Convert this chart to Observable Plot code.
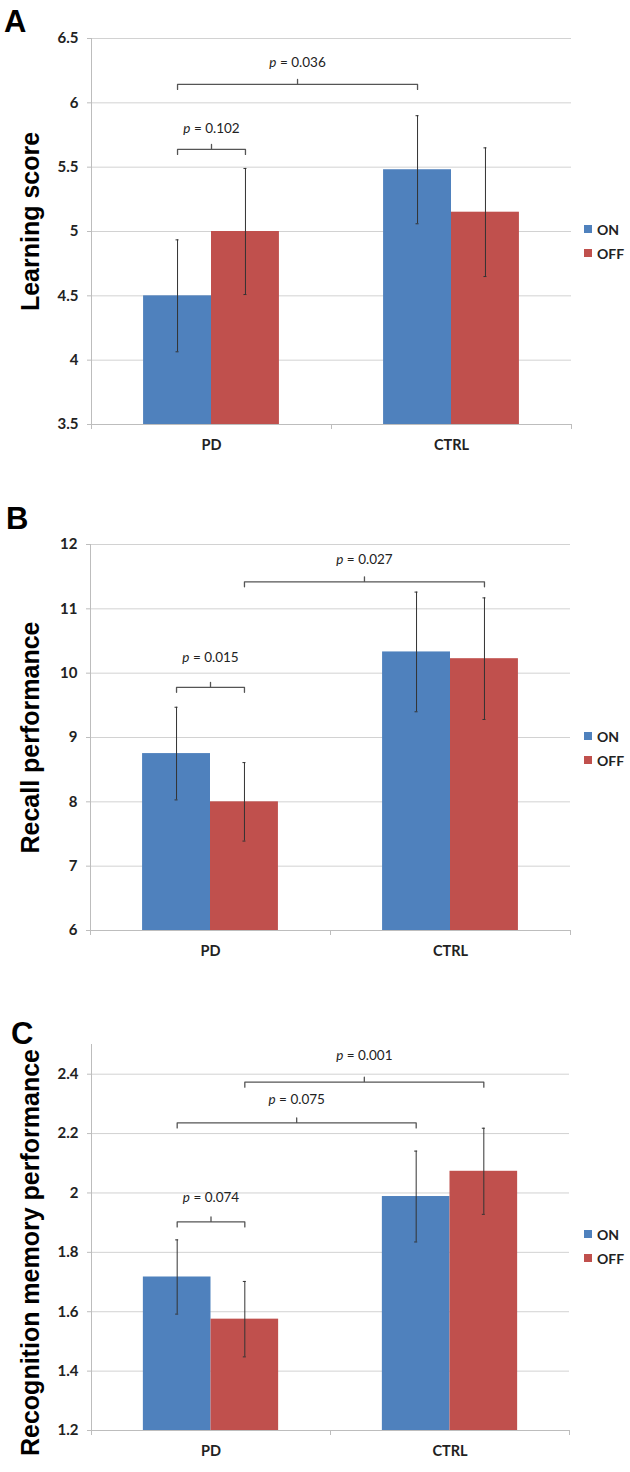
<!DOCTYPE html>
<html><head><meta charset="utf-8">
<script src="https://cdn.jsdelivr.net/npm/d3@7"></script>
<script src="https://cdn.jsdelivr.net/npm/@observablehq/plot@0.6"></script>
<style>
body{margin:0;background:#fff;width:630px;}
.panel{position:relative;width:630px;}
.panel svg{display:block;}
.letter{position:absolute;font:bold 31px "Liberation Sans",Arial,sans-serif;color:#000;line-height:31px;}
.legend{position:absolute;font:bold 14px Lato,sans-serif;color:#222;}
.legend .row{display:flex;align-items:center;height:24px;}
.legend .sw{display:inline-block;width:8px;height:8px;margin-right:5px;}
g[aria-label$="tick label"] text{font-weight:bold;}
</style></head><body><div id="root"></div>
<script>
// ---- shared categories ----
const groups = ["PD", "CTRL"];
const conditions = ["ON", "OFF"];
const colors = ["#4F81BD", "#C0504D"];
const panelLetters = ["A", "B", "C"];
const yTitles = ["Learning score", "Recall performance", "Recognition memory performance"];

// ---- Panel A: learning score (values per group PD, CTRL) ----
const learningOn = [4.50, 5.48];
const learningOff = [5.00, 5.15];
const learningOnErr = [0.435, 0.42];
const learningOffErr = [0.49, 0.50];
const learningTicks = [3.5, 4, 4.5, 5, 5.5, 6, 6.5];
const learningBrackets = [
  {from: ["PD", "ON"], to: ["PD", "OFF"], level: 5.638, labelLevel: 5.80, label: "p = 0.102"},
  {from: ["PD", "ON"], to: ["CTRL", "ON"], level: 6.143, labelLevel: 6.313, label: "p = 0.036"}
];

// ---- Panel B: recall performance ----
const recallOn = [8.75, 10.33];
const recallOff = [8.00, 10.225];
const recallOnErr = [0.72, 0.93];
const recallOffErr = [0.61, 0.945];
const recallTicks = [6, 7, 8, 9, 10, 11, 12];
const recallBrackets = [
  {from: ["PD", "ON"], to: ["PD", "OFF"], level: 9.78, labelLevel: 10.24, label: "p = 0.015"},
  {from: ["PD", "OFF"], to: ["CTRL", "OFF"], level: 11.42, labelLevel: 11.77, label: "p = 0.027"}
];

// ---- Panel C: recognition memory performance ----
const recogOn = [1.717, 1.988];
const recogOff = [1.575, 2.073];
const recogOnErr = [0.125, 0.153];
const recogOffErr = [0.127, 0.145];
const recogTicks = [1.2, 1.4, 1.6, 1.8, 2.0, 2.2, 2.4];
const recogBrackets = [
  {from: ["PD", "ON"], to: ["PD", "OFF"], level: 1.9026, labelLevel: 1.983, label: "p = 0.074"},
  {from: ["PD", "ON"], to: ["CTRL", "ON"], level: 2.236, labelLevel: 2.313, label: "p = 0.075"},
  {from: ["PD", "OFF"], to: ["CTRL", "OFF"], level: 2.373, labelLevel: 2.464, label: "p = 0.001"}
];

// ---- layout ----
const xDomain = [-0.5, 1.5];
const barW = 0.283; // bar width as a fraction of a category step
const panels = [
  {on: learningOn, off: learningOff, onErr: learningOnErr, offErr: learningOffErr, ticks: learningTicks,
   yDomain: [3.5, 6.5], brackets: learningBrackets, height: 500, mt: 38, mb: 76, ml: 91, mr: 59,
   letterPos: [4, 6], legendTop: 217, titleDy: -10},
  {on: recallOn, off: recallOff, onErr: recallOnErr, offErr: recallOffErr, ticks: recallTicks,
   yDomain: [6, 12], brackets: recallBrackets, height: 500, mt: 44, mb: 70, ml: 90, mr: 60,
   letterPos: [6, 3], legendTop: 224, titleDy: 0},
  {on: recogOn, off: recogOff, onErr: recogOnErr, offErr: recogOffErr, ticks: recogTicks,
   yDomain: [1.2, 2.5], brackets: recogBrackets, height: 472, mt: 44, mb: 42, ml: 91, mr: 61,
   letterPos: [11, 18], legendTop: 222, titleDy: 15}
];

const fmt = d => String(+d.toFixed(1));
const xCenter = (g, c) => groups.indexOf(g) + (conditions.indexOf(c) === 0 ? -barW / 2 : barW / 2);

const root = document.getElementById("root");
panels.forEach((p, k) => {
  const rows = [];
  groups.forEach((g, gi) => {
    [[p.on, p.onErr], [p.off, p.offErr]].forEach(([vals, errs], ci) => {
      rows.push({group: g, cond: conditions[ci], value: vals[gi], err: errs[gi],
        x1: gi + (ci - 1) * barW, x2: gi + ci * barW, xc: gi + (ci - 0.5) * barW});
    });
  });
  const innerH = p.height - p.mt - p.mb;
  const unitPx = innerH / (p.yDomain[1] - p.yDomain[0]);
  const d = 5 / unitPx;
  const bracketPts = [];
  p.brackets.forEach((b, i) => {
    const xa = xCenter(...b.from), xb = xCenter(...b.to), xm = (xa + xb) / 2;
    [[xa, b.level - d], [xa, b.level], [xm, b.level], [xm, b.level + d], [xm, b.level], [xb, b.level], [xb, b.level - d]]
      .forEach(([x, y]) => bracketPts.push({id: i, x, y}));
  });
  const labels = p.brackets.map(b => ({x: (xCenter(...b.from) + xCenter(...b.to)) / 2, y: b.labelLevel, text: b.label}));

  const svg = Plot.plot({
    width: 630, height: p.height,
    marginTop: p.mt, marginBottom: p.mb, marginLeft: p.ml, marginRight: p.mr,
    style: {fontFamily: "Lato, sans-serif", fontSize: "14px", color: "#222", background: "#fff"},
    x: {domain: xDomain},
    y: {domain: p.yDomain},
    color: {domain: conditions, range: colors},
    marks: [
      Plot.gridY(p.ticks, {stroke: "#d2d2d2", strokeOpacity: 1}),
      Plot.ruleX([xDomain[0]], {stroke: "#bdbdbd"}),
      Plot.ruleY([p.yDomain[0]], {stroke: "#bdbdbd"}),
      Plot.rectY(rows, {x1: "x1", x2: "x2", y1: () => p.yDomain[0], y2: "value", fill: "cond"}),
      Plot.ruleX(rows, {x: "xc", y1: r => r.value - r.err, y2: r => r.value + r.err, stroke: "#333", strokeWidth: 1}),
      Plot.ruleY(rows, {x1: "xc", x2: "xc", y: r => r.value - r.err, insetLeft: -1.5, insetRight: -1.5, stroke: "#333"}),
      Plot.ruleY(rows, {x1: "xc", x2: "xc", y: r => r.value + r.err, insetLeft: -1.5, insetRight: -1.5, stroke: "#333"}),
      Plot.line(bracketPts, {x: "x", y: "y", z: "id", stroke: "#555", strokeWidth: 1.3}),
      Plot.text(labels, {x: "x", y: "y", text: "text", fontSize: 13.5, fill: "#222"}),
      Plot.axisY({ticks: p.ticks, tickSize: 4, tickPadding: 9, tickFormat: fmt, stroke: "#bdbdbd", fill: "#222", label: null, fontSize: 15}),
      Plot.axisX({ticks: [-0.5, 0.5, 1.5], tickSize: 5, tickFormat: () => "", stroke: "#bdbdbd", label: null}),
      Plot.axisX({ticks: [0, 1], tickSize: 0, tickPadding: 15, tickFormat: i => groups[i], fill: "#222", label: null, fontSize: 14.5}),
      Plot.text([yTitles[k]], {frameAnchor: "left", textAnchor: "middle", rotate: -90, dx: 30 - p.ml, dy: p.titleDy,
        fontSize: 25, fontWeight: "bold", fontFamily: "Liberation Sans, Arial, sans-serif", fill: "#000"})
    ]
  });
  d3.select(svg).selectAll("text").each(function() {
    const t = this.textContent;
    if (t.startsWith("p = ")) {
      const el = d3.select(this);
      el.text(null);
      el.append("tspan").attr("font-style", "italic").text("p");
      el.append("tspan").text(t.slice(1));
    }
  });
  const div = document.createElement("div");
  div.className = "panel";
  div.style.height = p.height + "px";
  div.appendChild(svg);
  const letter = document.createElement("div");
  letter.className = "letter";
  letter.textContent = panelLetters[k];
  letter.style.left = p.letterPos[0] + "px";
  letter.style.top = p.letterPos[1] + "px";
  div.appendChild(letter);
  const leg = document.createElement("div");
  leg.className = "legend";
  leg.style.left = "584px";
  leg.style.top = p.legendTop + "px";
  conditions.forEach((c, ci) => {
    const row = document.createElement("div");
    row.className = "row";
    const sw = document.createElement("span");
    sw.className = "sw";
    sw.style.background = colors[ci];
    row.appendChild(sw);
    row.appendChild(document.createTextNode(c));
    leg.appendChild(row);
  });
  div.appendChild(leg);
  root.appendChild(div);
});
</script></body></html>
